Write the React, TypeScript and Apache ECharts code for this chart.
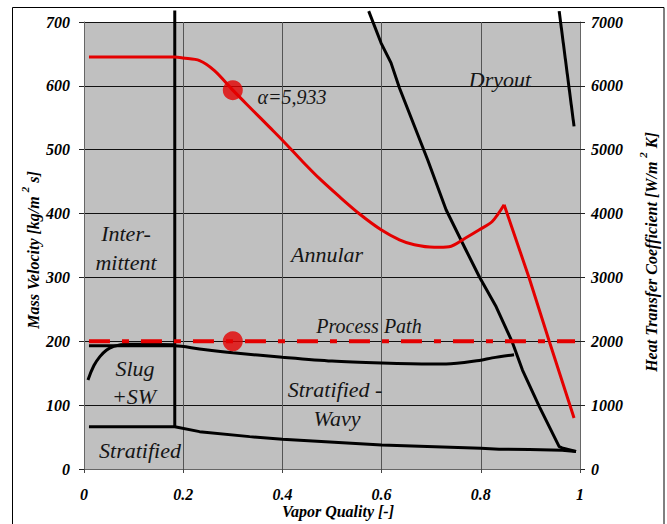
import React, { useEffect, useRef } from "react";
import * as echarts from "echarts";

// ---- data (x = vapor quality, G = mass velocity kg/m2s, HTC = W/m2K) ----
const xRange = [0, 1];
const gRange = [0, 700];
const htcRange = [0, 7000];

const htcX = [0.01, 0.183, 0.2, 0.233, 0.263, 0.3, 0.34, 0.374, 0.401, 0.441, 0.475, 0.515, 0.555, 0.599, 0.636, 0.666, 0.706, 0.736, 0.77, 0.797, 0.823, 0.847, 0.898, 0.938, 0.988];
const htcY = [6450, 6450, 6435, 6395, 6238, 5933, 5619, 5353, 5141, 4812, 4546, 4264, 3997, 3746, 3589, 3511, 3472, 3480, 3621, 3746, 3876, 4138, 2980, 2000, 800];
const htcPeakIndex = 21;

const vertX = [0.183, 0.183];
const vertG = [718, 66];

const stratLowX = [0.01, 0.183, 0.233, 0.334, 0.4, 0.6, 0.8, 0.837, 0.898, 0.964, 0.992];
const stratLowG = [66.3, 66.3, 58.5, 50.7, 46.5, 37.6, 32.4, 31, 30.5, 29.5, 27.5];

const swX = [0.01, 0.183, 0.233, 0.3, 0.4, 0.5, 0.6, 0.7, 0.73, 0.797, 0.823, 0.867];
const swG = [193, 193, 188, 182, 175, 169, 166, 164.5, 164.5, 170, 174, 179];

const slugX = [0.008, 0.02, 0.032, 0.045, 0.058, 0.085, 0.12, 0.183];
const slugG = [139.5, 162, 176, 186, 191.5, 195.5, 195.5, 194.5];

const dryX = [0.574, 0.599, 0.619, 0.636, 0.693, 0.73, 0.77, 0.797, 0.831, 0.863, 0.884, 0.918, 0.958, 0.964, 0.992];
const dryG = [717, 667, 636, 596.6, 484, 406, 343, 301, 254, 199.5, 155, 97.7, 35, 33, 27.5];

const mistX = [0.958, 0.988];
const mistG = [717, 536.5];

const pathX = [0.01, 0.99];
const pathG = [200, 200];

const dotX = 0.3;
const dotG = 200;
const dotHtc = 5933;

const regionLabels = ["Dryout", "α=5,933", "Inter-", "mittent", "Annular", "Process Path", "Slug", "+SW", "Stratified -", "Wavy", "Stratified"];

const zip = (xs: number[], ys: number[]) => xs.map((x, i) => [x, ys[i]]);

const SERIF = "'Liberation Serif', 'Times New Roman', serif";
const RED = "#e40000";

export default function App() {
  const ref = useRef<HTMLDivElement>(null);
  useEffect(() => {
    if (!ref.current) return;
    const chart = echarts.init(ref.current, undefined, { renderer: "svg" });

    const labelPos: [number, number, number][] = [
      [500, 79, 22],
      [292, 97, 20],
      [126, 233, 22],
      [126, 262, 22],
      [327, 254, 22],
      [369, 326, 20],
      [135, 368, 22],
      [134, 396, 22],
      [335, 389, 22],
      [337, 418, 22],
      [140, 450, 22],
    ];
    const textEls: any[] = regionLabels.map((t, i) => ({
      type: "text",
      x: labelPos[i][0],
      y: labelPos[i][1],
      z: 100,
      style: {
        text: t,
        fill: "#151515",
        font: `italic ${labelPos[i][2]}px ${SERIF}`,
        align: "center",
        verticalAlign: "middle",
      },
    }));

    const nameFont = { fontFamily: SERIF, fontStyle: "italic", fontWeight: "bold" as const, fontSize: 16, fill: "#000" };

    const axisLabel = {
      fontFamily: SERIF,
      fontStyle: "italic" as const,
      fontWeight: "bold" as const,
      fontSize: 16,
      color: "#000",
    };

    const blackLine = (data: number[][], smooth: number | boolean = false) => ({
      type: "line",
      data,
      yAxisIndex: 0,
      symbol: "none",
      smooth,
      clip: false,
      lineStyle: { color: "#000", width: 3 },
      z: 3,
    });

    chart.setOption({
      animation: false,
      grid: {
        left: 84,
        right: 87,
        top: 22,
        bottom: 55,
        show: true,
        backgroundColor: "#c0c0c0",
        borderWidth: 0,
      },
      xAxis: {
        type: "value",
        min: xRange[0],
        max: xRange[1],
        interval: 0.2,
        axisLine: { show: true, onZero: false, lineStyle: { color: "#666", width: 1 } },
        axisTick: { show: true, length: 4, lineStyle: { color: "#444" } },
        splitLine: { show: true, lineStyle: { color: "#555", width: 1 } },
        axisLabel: { ...axisLabel, margin: 17 },
      },
      yAxis: [
        {
          type: "value",
          min: gRange[0],
          max: gRange[1],
          interval: 100,
          axisLine: { show: true, lineStyle: { color: "#666", width: 1 } },
          axisTick: { show: true, length: 5, lineStyle: { color: "#222" } },
          splitLine: { show: true, lineStyle: { color: "#111", width: 1 } },
          axisLabel: { ...axisLabel, margin: 14 },
        },
        {
          type: "value",
          position: "right",
          min: htcRange[0],
          max: htcRange[1],
          interval: 1000,
          axisLine: { show: true, lineStyle: { color: "#666", width: 1 } },
          axisTick: { show: true, length: 5, lineStyle: { color: "#222" } },
          splitLine: { show: false },
          axisLabel: { ...axisLabel, margin: 11, formatter: (v: number) => String(v) },
        },
      ],
      series: [
        blackLine(zip(vertX, vertG)),
        blackLine(zip(stratLowX, stratLowG)),
        blackLine(zip(swX, swG), 0.3),
        blackLine(zip(slugX, slugG), 0.4),
        blackLine(zip(dryX, dryG)),
        blackLine(zip(mistX, mistG)),
        {
          type: "line",
          data: zip(pathX, pathG),
          yAxisIndex: 0,
          symbol: "none",
          lineStyle: { color: RED, width: 4, type: [21, 12, 7, 12], cap: "butt" },
          z: 4,
        },
        {
          type: "line",
          data: zip(htcX, htcY).slice(0, htcPeakIndex + 1),
          yAxisIndex: 1,
          symbol: "none",
          smooth: 0.3,
          lineStyle: { color: RED, width: 3 },
          z: 5,
        },
        {
          type: "line",
          data: zip(htcX, htcY).slice(htcPeakIndex),
          yAxisIndex: 1,
          symbol: "none",
          lineStyle: { color: RED, width: 3 },
          z: 5,
        },
        {
          type: "scatter",
          data: [[dotX, dotG]],
          yAxisIndex: 0,
          symbolSize: 20,
          itemStyle: { color: RED },
          z: 6,
        },
        {
          type: "scatter",
          data: [[dotX, dotHtc]],
          yAxisIndex: 1,
          symbolSize: 20,
          itemStyle: { color: RED },
          z: 6,
        },
      ],
      graphic: [
        {
          type: "rect",
          shape: { x: 12.5, y: 7.5, width: 651.5, height: 540 },
          style: { fill: "none", stroke: "#000", lineWidth: 1 },
          z: 1,
          silent: true,
        },
        ...textEls,
        {
          type: "text",
          x: 338,
          y: 511,
          style: { text: "Vapor Quality [-]", ...nameFont, align: "center", verticalAlign: "middle" },
        },
        {
          type: "text",
          x: 30,
          y: 250,
          rotation: Math.PI / 2,
          style: {
            text: "{n|Mass Velocity [kg/m }{s|2}{n| s]}",
            align: "center",
            verticalAlign: "middle",
            rich: {
              n: { ...nameFont, lineHeight: 22, verticalAlign: "bottom" },
              s: { ...nameFont, fontSize: 11, verticalAlign: "top" },
            },
          },
        },
        {
          type: "text",
          x: 648,
          y: 252,
          rotation: Math.PI / 2,
          style: {
            text: "{n|Heat Transfer Coefficient [W/m }{s|2}{n| K]}",
            align: "center",
            verticalAlign: "middle",
            rich: {
              n: { ...nameFont, lineHeight: 22, verticalAlign: "bottom" },
              s: { ...nameFont, fontSize: 11, verticalAlign: "top" },
            },
          },
        },
      ],
    });
    return () => chart.dispose();
  }, []);
  return (
    <div
      ref={ref}
      style={{ position: "fixed", left: 0, top: 0, width: 667, height: 524, background: "#fff" }}
    />
  );
}
